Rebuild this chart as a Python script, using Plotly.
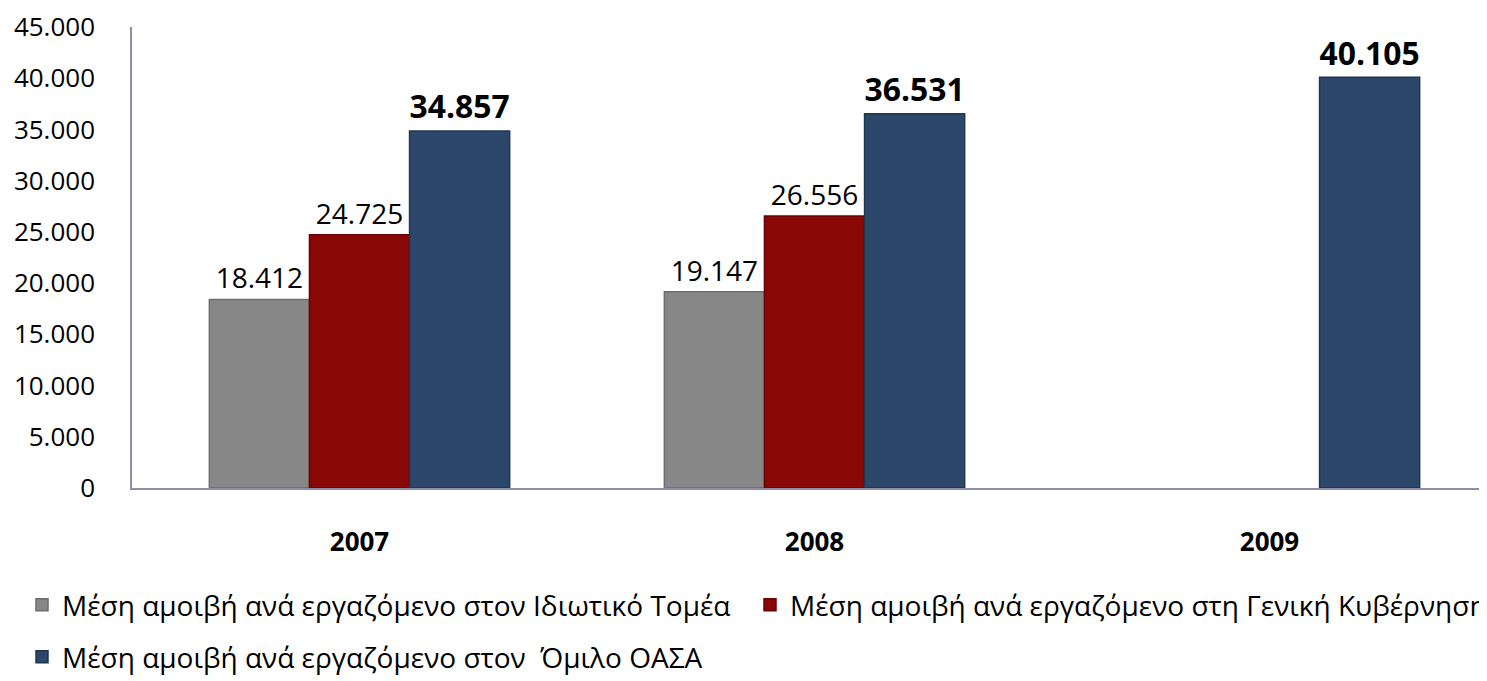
import plotly.graph_objects as go

years = ["2007", "2008", "2009"]
private_sector = [18412, 19147, None]
general_gov = [24725, 26556, None]
oasa_group = [34857, 36531, 40105]

names = [
    "Μέση αμοιβή ανά εργαζόμενο στον Ιδιωτικό Τομέα",
    "Μέση αμοιβή ανά εργαζόμενο στη Γενική Κυβέρνηση",
    "Μέση αμοιβή ανά εργαζόμενο στον  Όμιλο ΟΑΣΑ",
]
colors = ["#878787", "#880707", "#2c4769"]
edge = ["#6e6e6e", "#6a0404", "#1f3550"]

FONT = "Open Sans"

# page body adds an 8px offset; compensate so the plot lands where the reference has it
OFF = 8
W, H = 1487 - OFF, 681 - OFF
L, T = 132 - OFF, 19
PH = 461
PW = 1487 - 132

fig = go.Figure()
series = [private_sector, general_gov, oasa_group]
legends = ["legend", "legend2", "legend3"]
for i, vals in enumerate(series):
    bold = i == 2
    fig.add_trace(go.Bar(
        x=years, y=vals, name=names[i],
        marker=dict(color=colors[i], line=dict(color=edge[i], width=1.5)),
        texttemplate="%{y:,d}",
        textposition="outside",
        textfont=dict(family=FONT, size=33 if bold else 28, color="#000000",
                      weight="bold" if bold else "normal"),
        cliponaxis=False,
        legend=legends[i],
    ))

leg_common = dict(orientation="h", xanchor="left", yanchor="middle",
                  font=dict(family=FONT, size=28, color="#000000"),
                  bgcolor="rgba(0,0,0,0)", itemclick=False)

def lx(px):
    return (px - 132) / PW

def ly(py):
    return -(py - (T + OFF + PH)) / PH

fig.update_layout(
    width=W, height=H,
    margin=dict(l=L, r=0, t=T, b=H - T - PH, autoexpand=False),
    paper_bgcolor="white", plot_bgcolor="white",
    separators=",.",
    barmode="group", bargap=0.34, bargroupgap=0.0,
    showlegend=True,
    legend=dict(x=lx(22), y=ly(605), **leg_common),
    legend2=dict(x=lx(750), y=ly(605), **leg_common),
    legend3=dict(x=lx(22), y=ly(657), **leg_common),
    xaxis=dict(
        range=[-0.5, 2.478], showline=True, linecolor="#8e8ea8", linewidth=1.5,
        ticks="outside", ticklen=30, tickcolor="rgba(0,0,0,0)",
        tickfont=dict(family=FONT, size=26, color="#000000", weight="bold"),
        showgrid=False, zeroline=False, automargin=False,
    ),
    yaxis=dict(
        range=[0, 45000], dtick=5000, tickformat=",d",
        showline=True, linecolor="#8e8ea8", linewidth=1.5,
        showgrid=False, zeroline=False, automargin=False,
        ticklabelstandoff=30, ticklabeloverflow="allow",
        tickfont=dict(family=FONT, size=26, color="#000000"),
    ),
)

fig.write_html("out.html")
